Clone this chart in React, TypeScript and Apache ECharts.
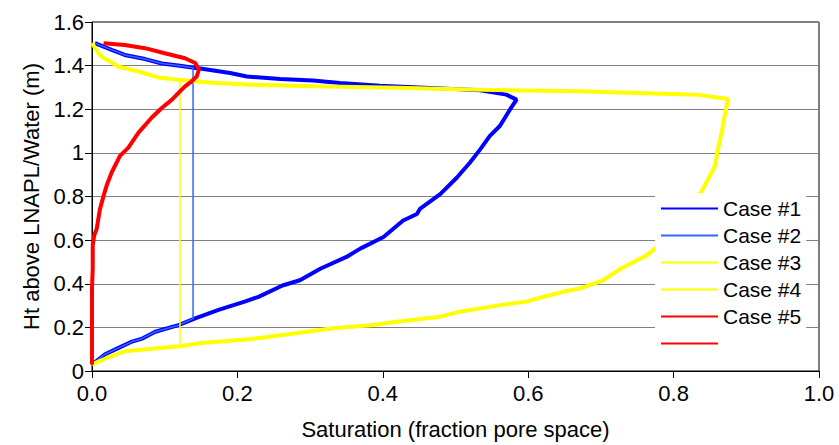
import React, { useEffect, useRef } from "react";
import * as echarts from "echarts";

// Series names (legend order); the 6th entry has no label in the reference
const seriesNames = ["Case #1", "Case #2", "Case #3", "Case #4", "Case #5", " "];

// [saturation, height] pairs
const case1: number[][] = [
  [0.004, 1.503], [0.027, 1.472], [0.045, 1.449], [0.073, 1.43], [0.096, 1.41],
  [0.121, 1.399], [0.142, 1.389], [0.149, 1.387], [0.19, 1.366], [0.213, 1.35],
  [0.259, 1.339], [0.304, 1.332], [0.341, 1.32], [0.396, 1.308], [0.465, 1.298],
  [0.534, 1.287], [0.57, 1.267], [0.584, 1.244], [0.575, 1.199], [0.568, 1.161],
  [0.561, 1.123], [0.547, 1.077], [0.534, 1.016], [0.52, 0.956], [0.502, 0.887],
  [0.479, 0.811], [0.47, 0.789], [0.451, 0.743], [0.447, 0.72], [0.428, 0.69],
  [0.401, 0.614], [0.369, 0.561], [0.35, 0.523], [0.314, 0.469], [0.286, 0.416],
  [0.262, 0.392], [0.229, 0.34], [0.21, 0.318], [0.174, 0.28], [0.142, 0.241],
  [0.119, 0.21], [0.087, 0.18], [0.068, 0.147], [0.055, 0.135], [0.036, 0.105],
  [0.018, 0.077], [0, 0.03],
];

const case2: number[][] = [
  [0.004, 1.503], [0.027, 1.472], [0.045, 1.449], [0.073, 1.43], [0.096, 1.41],
  [0.121, 1.399], [0.139, 1.39], [0.139, 0.24], [0.119, 0.21], [0.087, 0.18],
  [0.068, 0.147], [0.055, 0.135], [0.036, 0.105], [0.018, 0.077], [0, 0.03],
];

const case3: number[][] = [
  [0, 1.503], [0.006, 1.472], [0.013, 1.442], [0.025, 1.419], [0.036, 1.396],
  [0.064, 1.373], [0.091, 1.346], [0.119, 1.335], [0.167, 1.322], [0.213, 1.313],
  [0.304, 1.305], [0.42, 1.298], [0.534, 1.289], [0.671, 1.282], [0.832, 1.267],
  [0.875, 1.247], [0.871, 1.184], [0.866, 1.092], [0.861, 1.016], [0.857, 0.94],
  [0.85, 0.895], [0.839, 0.826], [0.777, 0.568], [0.763, 0.53], [0.745, 0.5],
  [0.726, 0.466], [0.703, 0.416], [0.671, 0.378], [0.648, 0.363], [0.616, 0.336],
  [0.598, 0.318], [0.561, 0.302], [0.534, 0.287], [0.506, 0.272], [0.479, 0.249],
  [0.419, 0.226], [0.387, 0.211], [0.332, 0.196], [0.265, 0.166], [0.22, 0.147],
  [0.151, 0.128], [0.121, 0.113], [0.082, 0.102], [0.045, 0.09], [0.022, 0.062],
  [0, 0.03],
];

const case4: number[][] = [
  [0, 1.503], [0.006, 1.472], [0.013, 1.442], [0.025, 1.419], [0.036, 1.396],
  [0.064, 1.373], [0.091, 1.346], [0.121, 1.335], [0.121, 0.113], [0.082, 0.102],
  [0.045, 0.09], [0.022, 0.062], [0, 0.03],
];

const case5: number[][] = [
  [0.016, 1.503], [0.045, 1.495], [0.073, 1.48], [0.1, 1.457], [0.128, 1.434],
  [0.142, 1.412], [0.147, 1.381], [0.144, 1.35], [0.137, 1.328], [0.128, 1.305],
  [0.121, 1.282], [0.11, 1.244], [0.096, 1.206], [0.082, 1.161], [0.064, 1.093],
  [0.05, 1.024], [0.0385, 0.986], [0.027, 0.91], [0.02, 0.849], [0.016, 0.804],
  [0.011, 0.743], [0.0065, 0.652], [0.003, 0.621], [0.001, 0.576], [0.001, 0.469],
  [0, 0.378], [0, 0.03],
];

// Thin red companion series (hidden under Case #5 in the reference)
const case6: number[][] = case5;

const seriesData = [case1, case2, case3, case4, case5, case6];
const seriesColors = ["#0000FF", "#3366FF", "#FFFF00", "#FFFF00", "#FF0000", "#FF0000"];
const seriesWidths = [4, 1.5, 4, 1.5, 4, 1.5];

const xMin = 0, xMax = 1, xStep = 0.2;
const yMin = 0, yMax = 1.6, yStep = 0.2;
const xTitle = "Saturation (fraction pore space)";
const yTitle = "Ht above LNAPL/Water (m)";

const FONT = "'Liberation Sans', Arial, sans-serif";

export default function App() {
  const ref = useRef<HTMLDivElement>(null);
  useEffect(() => {
    if (!ref.current) return;
    const chart = echarts.init(ref.current, undefined, { renderer: "svg" });
    chart.setOption({
      animation: false,
      backgroundColor: "#fff",
      textStyle: { fontFamily: FONT },
      grid: {
        left: 92, top: 22, right: 20, bottom: 72,
        show: true, borderColor: "#000", borderWidth: 1,
        backgroundColor: "transparent",
      },
      legend: {
        data: seriesNames,
        orient: "vertical",
        left: 655, top: 193,
        padding: [5, 5, 8, 5],
        backgroundColor: "#fff",
        itemWidth: 57, itemHeight: 14, itemGap: 6,
        itemStyle: { opacity: 0 },
        textStyle: { fontFamily: FONT, fontSize: 21, color: "#000" },
        selectedMode: false,
      },
      xAxis: {
        type: "value", min: xMin, max: xMax, interval: xStep,
        name: xTitle, nameLocation: "middle", nameGap: 47,
        nameTextStyle: { fontFamily: FONT, fontSize: 22, color: "#000" },
        axisLine: { show: true, onZero: false, lineStyle: { color: "#000", width: 1 } },
        axisTick: { show: true, length: 7, lineStyle: { color: "#000" } },
        axisLabel: {
          fontFamily: FONT, fontSize: 22, color: "#000", margin: 11,
          formatter: (v: number) => v.toFixed(1),
        },
        splitLine: { show: false },
      },
      yAxis: {
        type: "value", min: yMin, max: yMax, interval: yStep,
        name: yTitle, nameLocation: "middle", nameGap: 50, nameRotate: 90,
        nameTextStyle: { fontFamily: FONT, fontSize: 22, color: "#000" },
        axisLine: { show: true, onZero: false, lineStyle: { color: "#000", width: 1 } },
        axisTick: { show: true, length: 7, lineStyle: { color: "#000" } },
        axisLabel: {
          fontFamily: FONT, fontSize: 22, color: "#000", margin: 8,
          formatter: (v: number) => String(+v.toFixed(1)),
        },
        splitLine: { show: true, lineStyle: { color: "#808080", width: 1 } },
      },
      series: seriesData.map((d, i) => ({
        name: seriesNames[i],
        type: "line",
        data: d,
        symbol: "none",
        showSymbol: false,
        clip: false,
        color: seriesColors[i],
        lineStyle: { color: seriesColors[i], width: seriesWidths[i] },
        emphasis: { disabled: true },
      })),
    });
    return () => chart.dispose();
  }, []);
  return (
    <div
      ref={ref}
      style={{ position: "fixed", left: 0, top: 0, width: 839, height: 445 }}
    />
  );
}
